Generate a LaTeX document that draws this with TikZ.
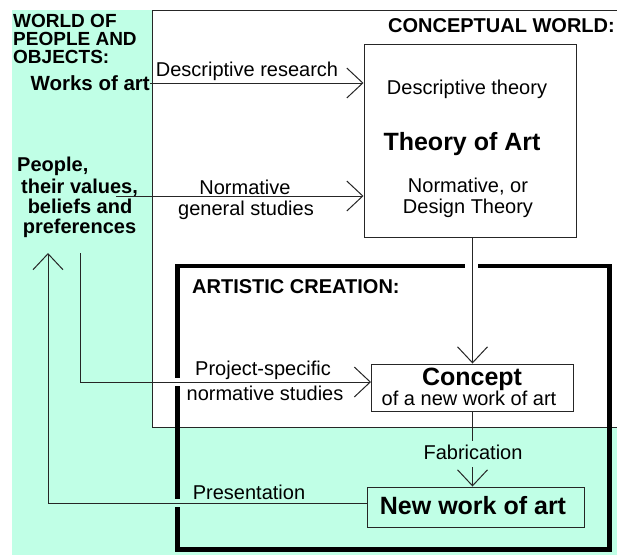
\documentclass[tikz,border=0pt]{standalone}
\usepackage{fontspec}
\setmainfont{Liberation Sans}
\usetikzlibrary{arrows.meta}
\definecolor{mint}{RGB}{192,255,230}
\begin{document}
\begin{tikzpicture}[x=1pt,y=-1pt,
  txt/.style={inner sep=0pt, font=\fontsize{20}{20}\selectfont, anchor=base},
  hd/.style={inner sep=0pt, font=\fontsize{20}{20}\selectfont\bfseries, anchor=base},
  wt/.style={inner sep=0pt, font=\fontsize{19}{18}\selectfont\bfseries, anchor=base west},
  big/.style={inner sep=0pt, font=\fontsize{25}{25}\selectfont\bfseries, anchor=base},
  thinline/.style={line width=1pt, draw=black!85},
  thebox/.style={thinline, inner sep=0pt},
  arr/.style={thinline, -{Straight Barb[length=16pt,width=30pt,line width=1pt]}},
  thick box/.style={line width=4.5pt, draw=black},
]
\useasboundingbox (0,0) rectangle (617,555);
\fill[white] (0,0) rectangle (617,555);
% world of people and objects (mint)
\fill[mint] (12,10) rectangle (617,555);
% conceptual world
\fill[white] (152,10) rectangle (620,427);
\draw[thinline] (620,10) -- (152,10) -- (152,427) -- (620,427);
\node[hd, anchor=base east] (cw) at (615,32) {CONCEPTUAL WORLD:};

% world titles
\node[wt] (w1) at (13,27) {WORLD OF};
\node[wt] (w2) at (13,45) {PEOPLE AND};
\node[wt] (w3) at (13,63) {OBJECTS:};
\node[hd, anchor=east, font=\fontsize{20.5}{20}\selectfont\bfseries] (works) at (150,83) {Works of art};
\node[hd, anchor=base west] (p1) at (17,171) {People,};
\node[hd] (p2) at (79.5,193) {their values,};
\node[hd] (p3) at (80,213) {beliefs and};
\node[hd] (p4) at (79.5,233) {preferences};

% theory of art
\node[thebox, draw, minimum width=212pt, minimum height=193pt] (theory) at (470,140.5) {};
\node[txt] (dt) at (467,94) {Descriptive theory};
\node[big] (toa) at (462,150) {Theory of Art};
\node[txt] (nt1) at (468,192) {Normative, or};
\node[txt] (nt2) at (468,213) {Design Theory};

% artistic creation
\draw[thick box] (177.5,266) rectangle (609.5,549.5);
\fill[white] (465,261) rectangle (478,271);
\fill[white] (172,378) rectangle (183,386);
\fill[mint] (172,499) rectangle (183,507);
\node[hd, anchor=base west] (ac) at (192,293) {ARTISTIC CREATION:};

\node[thebox, draw, fill=white, minimum width=202pt, minimum height=47pt] (concept) at (472.5,387.5) {};
\node[big] (ct) at (472,385) {Concept};
\node[txt] (ct2) at (469,405) {of a new work of art};

\node[thebox, draw, fill=mint, minimum width=217pt, minimum height=40pt] (newwork) at (475.5,507) {};
\node[big] (nw) at (473,514) {New work of art};

% connectors
\draw[arr] (works.east) -- (works.east -| theory.west);
\node[txt] (drl) at (247,76) {Descriptive research};

\coordinate (n0) at (116,196);
\draw[arr] (n0) -- (n0 -| theory.west);
\node[txt] (nl1) at (245,194) {Normative};
\node[txt] (nl2) at (246,215) {general studies};

\draw[arr] (theory.south -| concept.north) -- (concept.north);

\coordinate (ps0) at (80,253);
\coordinate (ps1) at (80,382);
\draw[arr] (ps0) -- (ps1) -- (ps1 -| concept.west);
\node[txt] (psl1) at (263,375) {Project-specific};
\node[txt] (psl2) at (265,400) {normative studies};

\node[txt] (fab) at (473,459) {Fabrication};
\draw[thinline] (concept.south) -- ([yshift=3pt]fab.north -| concept.south);
\draw[arr] ([yshift=-8pt]fab.south -| concept.south) -- (concept.south |- newwork.north);

\coordinate (pc) at (48,503);
\coordinate (uptip) at (48,253);
\draw[arr] (pc -| newwork.west) -- (pc) -- (uptip);
\node[txt] (prl) at (249,499) {Presentation};
\end{tikzpicture}
\end{document}
